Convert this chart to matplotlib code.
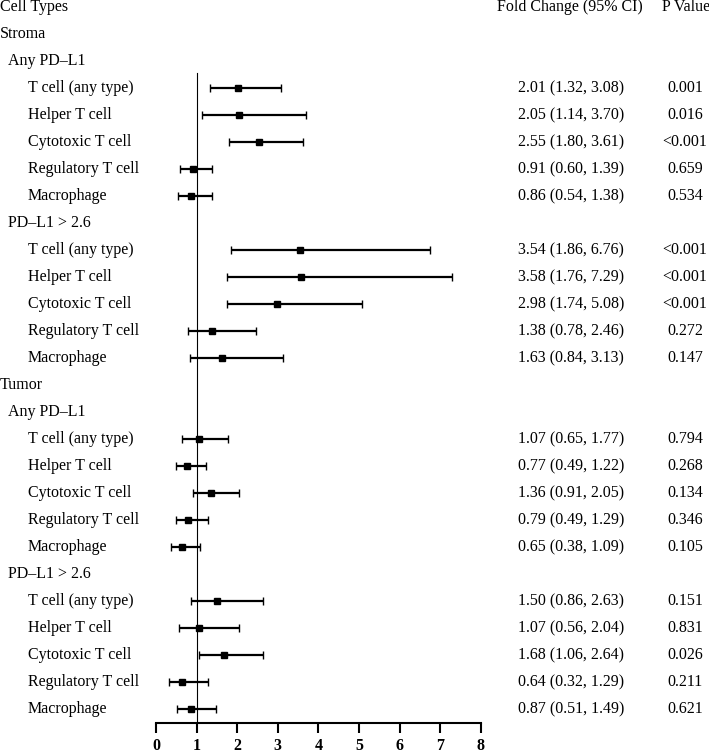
import numpy as np
import matplotlib.pyplot as plt
import matplotlib.transforms as mtransforms

plt.rcParams['font.family'] = ['Liberation Serif', 'DejaVu Serif']

# rows of the table: (label, indent level, has data)
labels = ["Cell Types", "Stroma", "Any PD\u2013L1",
          "T cell (any type)", "Helper T cell", "Cytotoxic T cell", "Regulatory T cell", "Macrophage",
          "PD\u2013L1 > 2.6",
          "T cell (any type)", "Helper T cell", "Cytotoxic T cell", "Regulatory T cell", "Macrophage",
          "Tumor", "Any PD\u2013L1",
          "T cell (any type)", "Helper T cell", "Cytotoxic T cell", "Regulatory T cell", "Macrophage",
          "PD\u2013L1 > 2.6",
          "T cell (any type)", "Helper T cell", "Cytotoxic T cell", "Regulatory T cell", "Macrophage"]
levels = [0, 0, 1, 2, 2, 2, 2, 2, 1, 2, 2, 2, 2, 2, 0, 1, 2, 2, 2, 2, 2, 1, 2, 2, 2, 2, 2]

fold = [2.01, 2.05, 2.55, 0.91, 0.86,
        3.54, 3.58, 2.98, 1.38, 1.63,
        1.07, 0.77, 1.36, 0.79, 0.65,
        1.50, 1.07, 1.68, 0.64, 0.87]
lo = [1.32, 1.14, 1.80, 0.60, 0.54,
      1.86, 1.76, 1.74, 0.78, 0.84,
      0.65, 0.49, 0.91, 0.49, 0.38,
      0.86, 0.56, 1.06, 0.32, 0.51]
hi = [3.08, 3.70, 3.61, 1.39, 1.38,
      6.76, 7.29, 5.08, 2.46, 3.13,
      1.77, 1.22, 2.05, 1.29, 1.09,
      2.63, 2.04, 2.64, 1.29, 1.49]
pvals = ["0.001", "0.016", "<0.001", "0.659", "0.534",
         "<0.001", "<0.001", "<0.001", "0.272", "0.147",
         "0.794", "0.268", "0.134", "0.346", "0.105",
         "0.151", "0.831", "0.026", "0.211", "0.621"]
data_rows = [3, 4, 5, 6, 7, 9, 10, 11, 12, 13, 16, 17, 18, 19, 20, 22, 23, 24, 25, 26]
xticks = [0, 1, 2, 3, 4, 5, 6, 7, 8]

W, H = 709, 753
fig = plt.figure(figsize=(W / 100, H / 100), dpi=100)
ax = fig.add_axes([156 / W, (H - 723) / H, (480.7 - 156) / W, 723 / H])
ax.set_xlim(0, 8)
ax.set_ylim(26.52, -0.26)

fold = np.array(fold)
lo = np.array(lo)
hi = np.array(hi)
ax.errorbar(fold, data_rows, xerr=[fold - lo, hi - fold], fmt='s', color='black',
            ms=4.5, elinewidth=1.6, capsize=2.6, capthick=1.0, zorder=3)
ax.plot([1, 1], [2.45, 26.52], color='black', lw=0.8, zorder=2)

for s in ['top', 'left', 'right']:
    ax.spines[s].set_visible(False)
ax.spines['bottom'].set_linewidth(1.5)
ax.set_yticks([])
ax.set_xticks(xticks)
ax.set_xticklabels([str(t) for t in xticks], fontweight='bold', fontsize=11.5)
ax.tick_params(axis='x', length=7, width=1.5, pad=4)

fs = 11.5
tr = mtransforms.blended_transform_factory(fig.transFigure, ax.transData)
indent = {0: 0, 1: 8, 2: 28}
for i, (lab, lv) in enumerate(zip(labels, levels)):
    ax.text(indent[lv] / W, i, lab, transform=tr, ha='left', va='center', fontsize=fs)

ax.text(570 / W, 0, "Fold Change (95% CI)", transform=tr, ha='center', va='center', fontsize=fs)
ax.text(686 / W, 0, "P Value", transform=tr, ha='center', va='center', fontsize=fs)
for r, f, l, h, p in zip(data_rows, fold, lo, hi, pvals):
    ax.text(571 / W, r, f"{f:.2f} ({l:.2f}, {h:.2f})", transform=tr, ha='center', va='center', fontsize=fs)
    ax.text(685 / W, r, p, transform=tr, ha='center', va='center', fontsize=fs)

fig.savefig("out.png", dpi=100)
